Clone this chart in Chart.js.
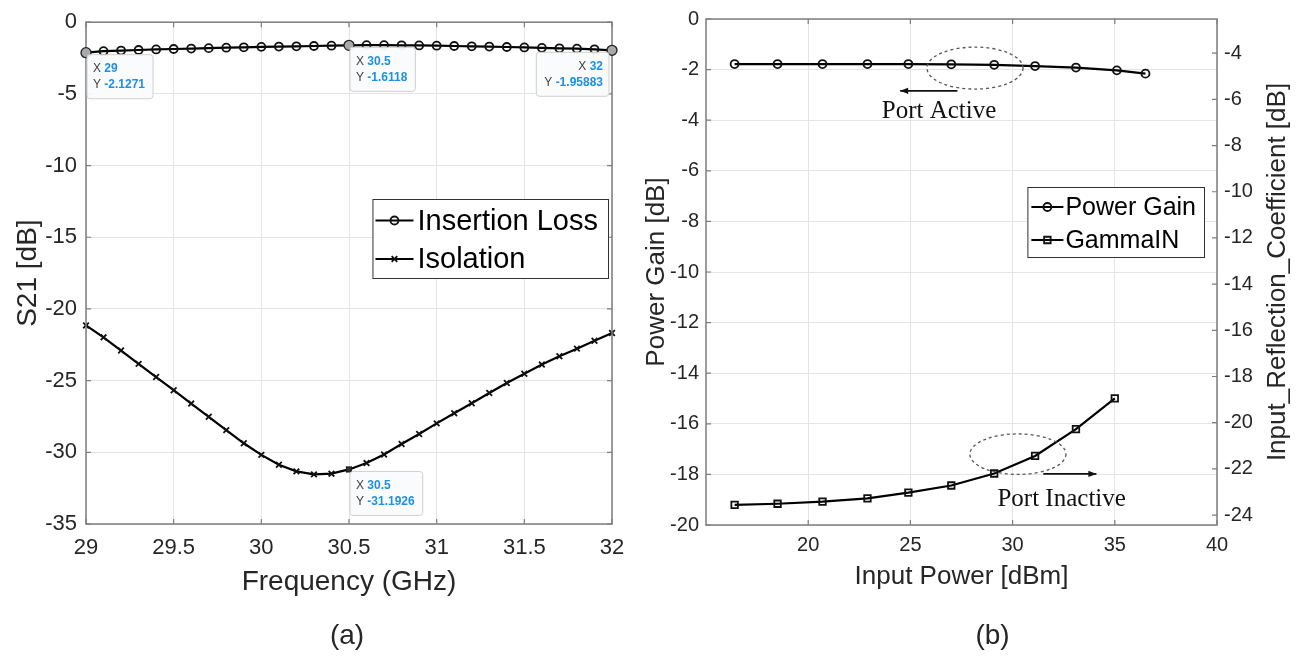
<!DOCTYPE html>
<html><head><meta charset="utf-8">
<script src="https://cdn.jsdelivr.net/npm/chart.js@4.4.1/dist/chart.umd.min.js"></script>
<style>
html,body{margin:0;padding:0;background:#fff;width:1299px;height:656px;overflow:hidden}
canvas{position:absolute;left:0;top:0}
</style></head><body>
<canvas id="chartA" width="1299" height="656"></canvas>
<canvas id="chartB" width="1299" height="656"></canvas>
<script>
// ---------- (a) data ----------
const freqGHz = [29.0,29.1,29.2,29.3,29.4,29.5,29.6,29.7,29.8,29.9,30.0,30.1,30.2,30.3,30.4,30.5,30.6,30.7,30.8,30.9,31.0,31.1,31.2,31.3,31.4,31.5,31.6,31.7,31.8,31.9,32.0];
const insertionLoss = [-2.1271,-2.02,-1.98,-1.94,-1.90,-1.87,-1.84,-1.81,-1.78,-1.75,-1.72,-1.70,-1.68,-1.66,-1.64,-1.6118,-1.60,-1.60,-1.61,-1.62,-1.64,-1.66,-1.68,-1.70,-1.73,-1.76,-1.79,-1.82,-1.85,-1.89,-1.95883];
const isolation = [-21.15,-21.98,-22.9,-23.83,-24.75,-25.67,-26.6,-27.52,-28.45,-29.37,-30.18,-30.87,-31.33,-31.54,-31.49,-31.1926,-30.75,-30.15,-29.42,-28.72,-27.98,-27.27,-26.58,-25.86,-25.17,-24.52,-23.88,-23.3,-22.77,-22.22,-21.68];
const freqTicks = [29,29.5,30,30.5,31,31.5,32];
const s21Ticks = [0,-5,-10,-15,-20,-25,-30,-35];
const tipFreqsIL = [29,30.5,32];
const tipFreqsIso = [30.5];

// ---------- (b) data ----------
const pinGain = [16.4,18.5,20.7,22.9,24.9,27.0,29.1,31.1,33.1,35.1,36.5];
const powerGain = [-1.78,-1.78,-1.78,-1.78,-1.78,-1.79,-1.81,-1.86,-1.92,-2.03,-2.16];
const pinGamma = [16.4,18.5,20.7,22.9,24.9,27.0,29.1,31.1,33.1,35.0];
const gammaIN = [-23.56,-23.51,-23.42,-23.28,-23.03,-22.72,-22.20,-21.44,-20.28,-18.95];
const pinTicks = [20,25,30,35,40];
const gainTicks = [0,-2,-4,-6,-8,-10,-12,-14,-16,-18,-20];
const gammaTicks = [-4,-6,-8,-10,-12,-14,-16,-18,-20,-22,-24];

// ---------- styles ----------
const SANS = '"Liberation Sans", Arial, Helvetica, sans-serif';
const SERIF = '"Liberation Serif", "Times New Roman", serif';
const BORDER = '#7d7d7d', GRID = '#e4e4e4', TXT = '#262626';
Chart.defaults.font.family = SANS;

function fixedTicks(arr){ return s => { s.ticks = arr.map(v => ({value:v})); }; }
function pts(xs, ys){ return xs.map((x,i) => ({x:x, y:ys[i]})); }
const plain = v => String(+v);

function drawBox(chart){
  const {ctx, chartArea:a} = chart;
  ctx.save(); ctx.strokeStyle = BORDER; ctx.lineWidth = 1.5;
  ctx.strokeRect(a.left, a.top, a.right-a.left, a.bottom-a.top);
  ctx.restore();
}
function drawInTicks(chart, id, sides, len){
  const s = chart.scales[id], a = chart.chartArea, ctx = chart.ctx;
  ctx.save(); ctx.strokeStyle = BORDER; ctx.lineWidth = 1.2; ctx.beginPath();
  s.ticks.forEach(t => {
    const p = s.getPixelForValue(t.value);
    sides.forEach(side => {
      if (side==='bottom'){ ctx.moveTo(p,a.bottom); ctx.lineTo(p,a.bottom-len); }
      if (side==='top'){ ctx.moveTo(p,a.top); ctx.lineTo(p,a.top+len); }
      if (side==='left'){ ctx.moveTo(a.left,p); ctx.lineTo(a.left+len,p); }
      if (side==='right'){ ctx.moveTo(a.right,p); ctx.lineTo(a.right-len,p); }
    });
  });
  ctx.stroke(); ctx.restore();
}
function text(ctx, str, x, y, font, rot, color){
  ctx.save(); ctx.translate(x,y); if (rot) ctx.rotate(rot);
  ctx.font = font; ctx.fillStyle = color || TXT; ctx.textAlign='center'; ctx.textBaseline='middle';
  ctx.fillText(str,0,0); ctx.restore();
}
function marker(ctx, style, x, y, r){
  ctx.save(); ctx.strokeStyle='#111'; ctx.lineWidth=1.8; ctx.beginPath();
  if (style==='circle'){ ctx.arc(x,y,r,0,Math.PI*2); }
  else if (style==='crossRot'){ ctx.moveTo(x-r*0.7,y-r*0.7); ctx.lineTo(x+r*0.7,y+r*0.7); ctx.moveTo(x+r*0.7,y-r*0.7); ctx.lineTo(x-r*0.7,y+r*0.7); }
  else if (style==='rect'){ const s=r*0.707; ctx.rect(x-s,y-s,2*s,2*s); }
  ctx.stroke(); ctx.restore();
}
function drawLegend(chart, cfg){
  const ctx = chart.ctx;
  ctx.save(); ctx.font = cfg.size+'px '+SANS;
  const tw = Math.max(...chart.data.datasets.map(d => ctx.measureText(d.label).width));
  const w = cfg.textX + tw + cfg.padR, left = cfg.right - w;
  ctx.fillStyle='#fff'; ctx.fillRect(left, cfg.top, w, cfg.h);
  ctx.strokeStyle='#333'; ctx.lineWidth=1; ctx.strokeRect(left+0.5, cfg.top+0.5, w, cfg.h);
  chart.data.datasets.forEach((d,i) => {
    const cy = cfg.top + cfg.rows[i];
    ctx.strokeStyle='#000'; ctx.lineWidth=2; ctx.beginPath();
    ctx.moveTo(left+cfg.lineFrom, cy); ctx.lineTo(left+cfg.lineTo, cy); ctx.stroke();
    marker(ctx, d.pointStyle, left+(cfg.lineFrom+cfg.lineTo)/2, cy, d.pointRadius);
    ctx.fillStyle='#000'; ctx.textAlign='left'; ctx.textBaseline='middle';
    ctx.fillText(d.label, left+cfg.textX, cy+1);
  });
  ctx.restore();
}
function roundRect(ctx,x,y,w,h,r){
  ctx.beginPath(); ctx.moveTo(x+r,y); ctx.lineTo(x+w-r,y); ctx.quadraticCurveTo(x+w,y,x+w,y+r);
  ctx.lineTo(x+w,y+h-r); ctx.quadraticCurveTo(x+w,y+h,x+w-r,y+h); ctx.lineTo(x+r,y+h);
  ctx.quadraticCurveTo(x,y+h,x,y+h-r); ctx.lineTo(x,y+r); ctx.quadraticCurveTo(x,y,x+r,y); ctx.closePath();
}
function drawTip(chart, dsIndex, xVal, align, big){
  const ctx = chart.ctx, ds = chart.data.datasets[dsIndex];
  const p = ds.data.find(q => Math.abs(q.x-xVal) < 1e-9);
  const px = chart.scales.x.getPixelForValue(p.x), py = chart.scales.y.getPixelForValue(p.y);
  ctx.save();
  ctx.beginPath(); ctx.arc(px,py,big?5:2.5,0,Math.PI*2);
  ctx.fillStyle = big ? '#a9a9a9' : '#333'; ctx.fill();
  ctx.strokeStyle='#222'; ctx.lineWidth=1.3; ctx.stroke();
  const lines = [['X ', String(p.x)], ['Y ', String(p.y)]];
  const lf = '12px '+SANS, vf = 'bold 12px '+SANS;
  let w = 0;
  lines.forEach(l => { ctx.font=lf; let a=ctx.measureText(l[0]).width; ctx.font=vf; a+=ctx.measureText(l[1]).width; w=Math.max(w,a); });
  const bw = w + 14, bh = 44;
  const bx = align==='left' ? px - 3 - bw : px + 1, by = py + 2;
  roundRect(ctx,bx,by,bw,bh,3); ctx.fillStyle='rgba(250,251,253,0.95)'; ctx.fill();
  ctx.strokeStyle='#cfcfcf'; ctx.lineWidth=1; ctx.stroke();
  ctx.textBaseline='middle'; ctx.textAlign='left';
  lines.forEach((l,i) => {
    const cy = by + 14 + i*16;
    ctx.font=lf; const lw=ctx.measureText(l[0]).width; ctx.font=vf; const vw=ctx.measureText(l[1]).width;
    const x0 = align==='left' ? bx + bw - 6 - lw - vw : bx + 6;
    ctx.font=lf; ctx.fillStyle='#404040'; ctx.fillText(l[0], x0, cy);
    ctx.font=vf; ctx.fillStyle='#1e8fe6'; ctx.fillText(l[1], x0+lw, cy);
  });
  ctx.restore();
}
function arrow(ctx, x1, y1, x2, y2){
  ctx.save(); ctx.strokeStyle='#111'; ctx.fillStyle='#111'; ctx.lineWidth=1.6;
  ctx.beginPath(); ctx.moveTo(x1,y1); ctx.lineTo(x2,y2); ctx.stroke();
  const ang = Math.atan2(y2-y1,x2-x1), L=8, W=3.2;
  ctx.beginPath(); ctx.moveTo(x2,y2);
  ctx.lineTo(x2-L*Math.cos(ang)+W*Math.sin(ang), y2-L*Math.sin(ang)-W*Math.cos(ang));
  ctx.lineTo(x2-L*Math.cos(ang)-W*Math.sin(ang), y2-L*Math.sin(ang)+W*Math.cos(ang));
  ctx.closePath(); ctx.fill(); ctx.restore();
}

// ---------- chart (a) ----------
const decorA = {
  id:'decorA',
  afterDraw(chart){
    const ctx = chart.ctx, a = chart.chartArea, cx = (a.left+a.right)/2, cy = (a.top+a.bottom)/2;
    drawBox(chart);
    drawInTicks(chart,'x',['bottom','top'],5);
    drawInTicks(chart,'y',['left','right'],5);
    drawLegend(chart,{right:a.right-4, top:199, h:79, rows:[21.5,60], lineFrom:3, lineTo:41, textX:45, padR:10, size:29});
    tipFreqsIL.forEach((f,i) => drawTip(chart,0,f, i===tipFreqsIL.length-1 ? 'left':'right', true));
    tipFreqsIso.forEach(f => drawTip(chart,1,f,'right',false));
    text(ctx,'S21 [dB]', a.left-58, cy, '28px '+SANS, -Math.PI/2);
    text(ctx,'Frequency (GHz)', cx, a.bottom+58, '28px '+SANS);
    text(ctx,'(a)', cx-2, a.bottom+112, '28px '+SANS);
  }
};
new Chart(document.getElementById('chartA'), {
  type:'scatter',
  data:{datasets:[
    {label:'Insertion Loss', data:pts(freqGHz,insertionLoss), showLine:true, borderColor:'#000', borderWidth:2.2,
     pointStyle:'circle', pointRadius:4, pointBorderWidth:1.8, pointBorderColor:'#111', pointBackgroundColor:'rgba(0,0,0,0)', clip:false},
    {label:'Isolation', data:pts(freqGHz,isolation), showLine:true, borderColor:'#000', borderWidth:2.2,
     pointStyle:'crossRot', pointRadius:4, pointBorderWidth:1.8, pointBorderColor:'#111', pointBackgroundColor:'rgba(0,0,0,0)', clip:false}
  ]},
  options:{
    responsive:false, animation:false, events:[],
    layout:{padding:{left:0, top:17, right:687, bottom:0}},
    plugins:{legend:{display:false}, tooltip:{enabled:false}},
    scales:{
      x:{type:'linear', min:29, max:32, afterBuildTicks:fixedTicks(freqTicks), afterFit:s=>{s.height=132;},
         grid:{color:GRID, drawTicks:false}, border:{display:false},
         ticks:{padding:11, color:TXT, font:{size:22}, callback:plain}},
      y:{type:'linear', min:-35, max:0, afterBuildTicks:fixedTicks(s21Ticks), afterFit:s=>{s.width=86;},
         grid:{color:GRID, drawTicks:false}, border:{display:false},
         ticks:{padding:9, color:TXT, font:{size:22}, callback:plain}}
    }
  },
  plugins:[decorA]
});

// ---------- chart (b) ----------
const noteB = {
  ellipses:[{x:28.16, y:-1.94, rx:2.35, ry:0.83}, {x:30.26, y:-17.2, rx:2.35, ry:0.8}],
  arrows:[{x1:27.3, x2:24.5, y:-2.84}, {x1:31.5, x2:34.1, y:-17.98}],
  labels:[{t:'Port Active', x:26.4, y:-3.67}, {t:'Port Inactive', x:32.4, y:-18.99}]
};
const decorB = {
  id:'decorB',
  afterDraw(chart){
    const ctx = chart.ctx, a = chart.chartArea, cx=(a.left+a.right)/2, cy=(a.top+a.bottom)/2;
    const X = chart.scales.x, Y = chart.scales.y;
    drawBox(chart);
    drawInTicks(chart,'x',['bottom','top'],5);
    drawInTicks(chart,'y',['left'],5);
    drawInTicks(chart,'y2',['right'],5);
    ctx.save(); ctx.strokeStyle='#555'; ctx.lineWidth=1.3; ctx.setLineDash([3,3]);
    noteB.ellipses.forEach(e => {
      const ex=X.getPixelForValue(e.x), ey=Y.getPixelForValue(e.y);
      const rx=Math.abs(X.getPixelForValue(e.x+e.rx)-ex), ry=Math.abs(Y.getPixelForValue(e.y+e.ry)-ey);
      ctx.beginPath(); ctx.ellipse(ex,ey,rx,ry,0,0,Math.PI*2); ctx.stroke();
    });
    ctx.restore();
    noteB.arrows.forEach(r => arrow(ctx, X.getPixelForValue(r.x1), Y.getPixelForValue(r.y), X.getPixelForValue(r.x2), Y.getPixelForValue(r.y)));
    noteB.labels.forEach(l => text(ctx, l.t, X.getPixelForValue(l.x), Y.getPixelForValue(l.y), '25px '+SERIF, 0, '#111'));
    drawLegend(chart,{right:a.right-13, top:187, h:70, rows:[20,53], lineFrom:4, lineTo:36, textX:38, padR:8, size:25});
    text(ctx,'Power Gain [dB]', a.left-49, cy, '26px '+SANS, -Math.PI/2);
    text(ctx,'Input_Reflection_Coefficient [dB]', a.right+61, cy, '26px '+SANS, -Math.PI/2);
    text(ctx,'Input Power [dBm]', cx, a.bottom+52, '26px '+SANS);
    text(ctx,'(b)', cx+31, a.bottom+111, '28px '+SANS);
  }
};
new Chart(document.getElementById('chartB'), {
  type:'scatter',
  data:{datasets:[
    {label:'Power Gain', data:pts(pinGain,powerGain), yAxisID:'y', showLine:true, borderColor:'#000', borderWidth:2.2,
     pointStyle:'circle', pointRadius:4, pointBorderWidth:1.8, pointBorderColor:'#111', pointBackgroundColor:'rgba(0,0,0,0)', clip:false},
    {label:'GammaIN', data:pts(pinGamma,gammaIN), yAxisID:'y2', showLine:true, borderColor:'#000', borderWidth:2.2,
     pointStyle:'rect', pointRadius:4.6, pointBorderWidth:1.8, pointBorderColor:'#111', pointBackgroundColor:'rgba(0,0,0,0)', clip:false}
  ]},
  options:{
    responsive:false, animation:false, events:[],
    layout:{padding:{left:650, top:17, right:0, bottom:0}},
    plugins:{legend:{display:false}, tooltip:{enabled:false}},
    scales:{
      x:{type:'linear', min:15, max:40, afterBuildTicks:fixedTicks(pinTicks), afterFit:s=>{s.height=131;},
         grid:{color:GRID, drawTicks:false}, border:{display:false},
         ticks:{padding:8, color:TXT, font:{size:20}, callback:plain}},
      y:{type:'linear', position:'left', min:-20, max:0, afterBuildTicks:fixedTicks(gainTicks), afterFit:s=>{s.width=56;},
         grid:{color:GRID, drawTicks:false}, border:{display:false},
         ticks:{padding:7, color:TXT, font:{size:20}, callback:plain}},
      y2:{type:'linear', position:'right', min:-24.43, max:-2.52, afterBuildTicks:fixedTicks(gammaTicks), afterFit:s=>{s.width=82;},
         grid:{display:false, drawTicks:false}, border:{display:false},
         ticks:{padding:7, color:TXT, font:{size:20}, callback:plain}}
    }
  },
  plugins:[decorB]
});
</script>
</body></html>
